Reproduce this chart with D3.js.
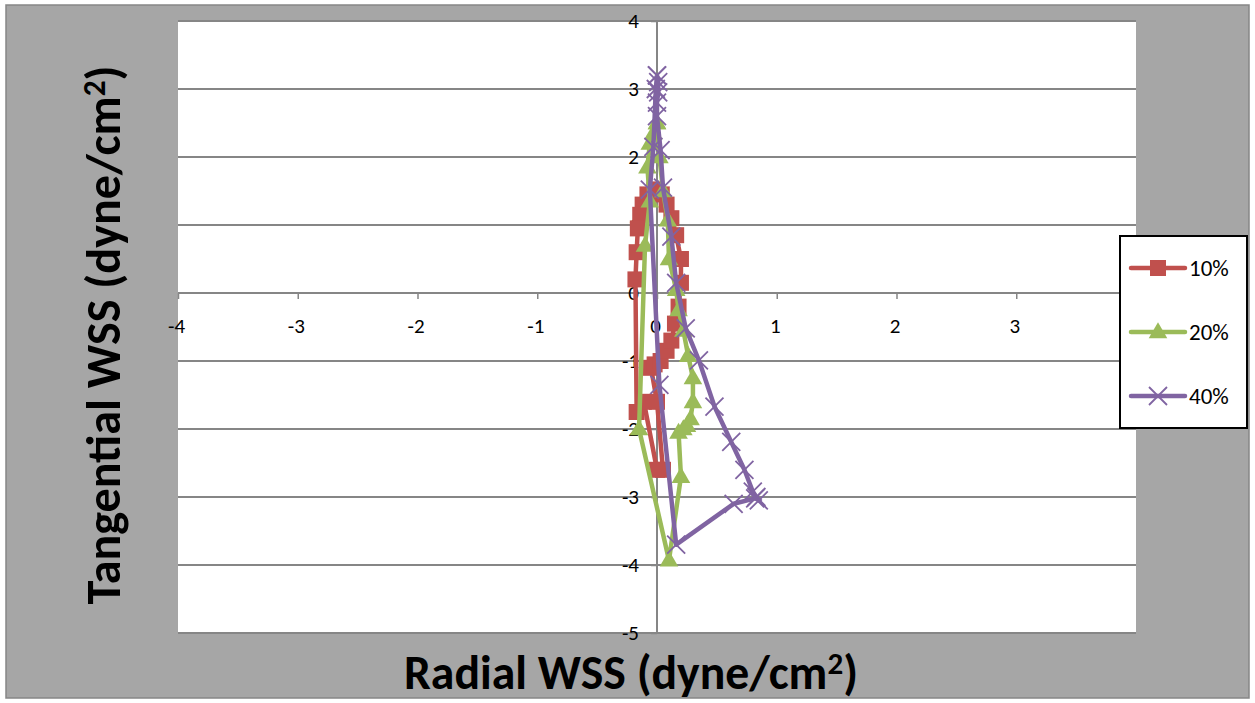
<!DOCTYPE html>
<html><head><meta charset="utf-8">
<script src="https://cdn.jsdelivr.net/npm/d3@7"></script>
<style>body{margin:0;background:#fff}svg{display:block}</style>
</head><body>
<svg id="c" width="1255" height="703"></svg>
<script>
const xTicks = [-4,-3,-2,-1,0,1,2,3];
const yTicks = [4,3,2,1,0,-1,-2,-3,-4,-5];
const seriesNames = ["10%","20%","40%"];
const seriesColors = ["#C0504D","#9BBB59","#8064A2"];
const seriesMarkers = ["square","triangle","x"];
// radial (x) and tangential (y) WSS values
const red10X = [-0.02,-0.08,-0.12,-0.14,-0.16,-0.17,-0.18,-0.17,-0.11,0.0,0.05,0.0,-0.05,-0.02,0.03,0.08,0.12,0.15,0.18,0.2,0.2,0.16,0.12,0.08,0.04,-0.02];
const red10Y = [1.52,1.45,1.3,1.15,0.95,0.6,0.2,-1.75,-1.6,-2.6,-2.6,-1.6,-1.1,-1.05,-1.0,-0.85,-0.7,-0.45,-0.2,0.15,0.5,0.85,1.1,1.3,1.45,1.52];
const green20X = [0.0,-0.03,-0.06,-0.08,-0.06,-0.1,-0.15,0.1,0.2,0.18,0.22,0.25,0.28,0.3,0.3,0.26,0.22,0.18,0.16,0.1,0.09,0.05,0.02,0.0];
const green20Y = [2.5,2.35,2.2,1.85,1.35,0.7,-2.0,-3.93,-2.7,-2.05,-2.0,-1.95,-1.85,-1.6,-1.25,-0.92,-0.55,-0.25,0.05,0.5,1.07,1.5,2.0,2.5];
const purple40X = [0.0,0.01,0.01,0.0,0.0,0.03,0.05,0.12,0.16,0.24,0.35,0.48,0.62,0.73,0.8,0.83,0.85,0.82,0.64,0.16,0.02,-0.06,-0.03,-0.01,0.0];
const purple40Y = [3.2,3.1,2.95,2.8,2.6,2.1,1.55,0.83,0.15,-0.52,-0.99,-1.67,-2.19,-2.6,-2.92,-3.0,-3.05,-3.02,-3.1,-3.7,-1.35,1.52,2.15,3.0,3.2];
const allX = [red10X, green20X, purple40X];
const allY = [red10Y, green20Y, purple40Y];

const svg = d3.select("#c");
const font = "Carlito, 'Open Sans', sans-serif";
svg.append("rect").attr("x",0).attr("y",0).attr("width",1255).attr("height",703).attr("fill","#fff");
svg.append("rect").attr("x",6).attr("y",5).attr("width",1243).attr("height",693)
  .attr("fill","#a6a6a6").attr("stroke","#868686").attr("stroke-width",1.5);

const x = d3.scaleLinear().domain([-4,4]).range([178,1136]);
const y = d3.scaleLinear().domain([-5,4]).range([633,21]);
svg.append("rect").attr("x",178).attr("y",21).attr("width",958).attr("height",612).attr("fill","#fff");

// horizontal gridlines
svg.append("g").selectAll("line").data(yTicks).join("line")
  .attr("x1",178).attr("x2",1136).attr("y1",d=>y(d)).attr("y2",d=>y(d))
  .attr("stroke","#868686").attr("stroke-width",2);

const fmt = d => String(d);
// x axis at y=0
const xAxis = d3.axisBottom(x).tickValues(xTicks).tickSize(6).tickFormat(fmt);
const gx = svg.append("g").attr("transform",`translate(0,${y(0)})`).call(xAxis);
gx.select(".domain").attr("stroke","#868686").attr("stroke-width",2).attr("d",`M178,0H1136`);
gx.selectAll(".tick line").attr("stroke","#868686").attr("stroke-width",1.5);
gx.selectAll(".tick text").attr("font-family",font).attr("font-size",21).attr("fill","#000")
  .attr("dy",null).attr("y",40).attr("dx","-2");

// y axis at x=0
const yAxis = d3.axisLeft(y).tickValues(yTicks).tickSize(6).tickFormat(fmt);
const gy = svg.append("g").attr("transform",`translate(${x(0)},0)`).call(yAxis);
gy.select(".domain").attr("stroke","#868686").attr("stroke-width",2).attr("d",`M0,21V633`);
gy.selectAll(".tick line").attr("stroke","#868686").attr("stroke-width",1.5);
gy.selectAll(".tick text").attr("font-family",font).attr("font-size",21).attr("fill","#000").attr("x",-18);

// series
function drawMarker(g, type, color, cx, cy){
  if(type==="square"){
    g.append("rect").attr("x",cx-8).attr("y",cy-8).attr("width",16).attr("height",16).attr("fill",color);
  } else if(type==="triangle"){
    g.append("path").attr("d",d3.symbol(d3.symbolTriangle,150)()).attr("transform",`translate(${cx},${cy+1})`).attr("fill",color);
  } else {
    const s=9;
    g.append("path").attr("d",`M${cx-s},${cy-s}L${cx+s},${cy+s}M${cx-s},${cy+s}L${cx+s},${cy-s}`)
      .attr("stroke",color).attr("stroke-width",1.8).attr("fill","none");
  }
}
const line = d3.line().x(d=>x(d[0])).y(d=>y(d[1]));
allX.forEach((xs,i)=>{
  const pts = xs.map((v,j)=>[v, allY[i][j]]);
  const g = svg.append("g");
  g.append("path").attr("d",line(pts)).attr("fill","none").attr("stroke",seriesColors[i])
    .attr("stroke-width",4.5).attr("stroke-linejoin","round");
  pts.forEach(p=>drawMarker(g, seriesMarkers[i], seriesColors[i], x(p[0]), y(p[1])));
});

// legend
const lg = svg.append("g");
lg.append("rect").attr("x",1120).attr("y",236).attr("width",127).attr("height",192)
  .attr("fill","#fff").attr("stroke","#000").attr("stroke-width",2);
seriesNames.forEach((n,i)=>{
  const cy = 268 + i*64;
  lg.append("line").attr("x1",1131).attr("x2",1185).attr("y1",cy).attr("y2",cy)
    .attr("stroke",seriesColors[i]).attr("stroke-width",4.5).attr("stroke-linecap","round");
  drawMarker(lg, seriesMarkers[i], seriesColors[i], 1158, cy);
  lg.append("text").attr("x",1189).attr("y",cy).attr("dy","0.36em").attr("font-family",font)
    .attr("font-size",23).text(n);
});

// axis titles (font size fitted to reference widths)
function fitTitle(t, target){
  const w = t.node().getComputedTextLength();
  const fs = 38*target/w;
  t.attr("font-size",fs);
  t.selectAll("tspan.sup").attr("font-size",fs*0.65).attr("dy",-fs*0.32);
  t.selectAll("tspan.back").attr("dy",fs*0.32);
}
const xt = svg.append("text").attr("x",631).attr("y",689).attr("text-anchor","middle")
  .attr("font-family",font).attr("font-weight","bold").attr("font-size",38)
  .html("Radial WSS (dyne/cm<tspan class='sup' dy='-14' font-size='26'>2</tspan><tspan class='back' dy='14'>)</tspan>");
fitTitle(xt, 455);
const yt = svg.append("text").attr("transform","translate(120,335) rotate(-90)").attr("text-anchor","middle")
  .attr("font-family",font).attr("font-weight","bold").attr("font-size",38)
  .html("Tangential WSS (dyne/cm<tspan class='sup' dy='-14' font-size='26'>2</tspan><tspan class='back' dy='14'>)</tspan>");
fitTitle(yt, 540);
</script>
</body></html>
